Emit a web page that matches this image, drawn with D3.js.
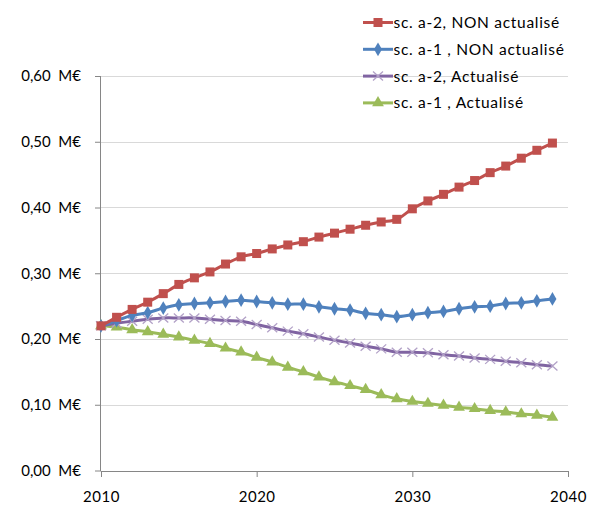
<!DOCTYPE html>
<html><head><meta charset="utf-8">
<script src="https://cdn.jsdelivr.net/npm/d3@7"></script>
<style>body{margin:0;background:#fff}svg{display:block}text{font-family:Lato,"Open Sans",sans-serif;fill:#000}</style>
</head><body><svg id="c" width="590" height="507"></svg>
<script>
const years = d3.range(2010, 2040);
const seriesNames = ["sc. a-2, NON actualisé","sc. a-1 , NON actualisé","sc. a-2, Actualisé","sc. a-1 , Actualisé"];
const redVals = [0.220,0.233,0.245,0.256,0.269,0.283,0.293,0.302,0.314,0.325,0.330,0.337,0.343,0.348,0.355,0.361,0.367,0.373,0.378,0.382,0.398,0.410,0.420,0.431,0.441,0.453,0.463,0.475,0.487,0.498];
const blueVals = [0.220,0.228,0.236,0.240,0.247,0.252,0.254,0.255,0.257,0.259,0.257,0.255,0.253,0.253,0.249,0.246,0.244,0.239,0.237,0.234,0.237,0.240,0.242,0.246,0.249,0.250,0.254,0.255,0.258,0.261];
const purpleVals = [0.220,0.224,0.227,0.230,0.232,0.232,0.232,0.230,0.228,0.227,0.222,0.217,0.212,0.208,0.203,0.198,0.194,0.189,0.185,0.180,0.180,0.179,0.176,0.174,0.171,0.169,0.166,0.164,0.161,0.159];
const greenVals = [0.220,0.218,0.214,0.211,0.207,0.203,0.198,0.193,0.186,0.180,0.172,0.165,0.157,0.150,0.142,0.135,0.129,0.123,0.115,0.109,0.105,0.102,0.099,0.096,0.094,0.091,0.089,0.086,0.084,0.081];
const yTicks = [0,0.1,0.2,0.3,0.4,0.5,0.6];
const xTicks = [2010,2020,2030,2040];
const colors = ["#C0504D","#4F81BD","#8064A2","#9BBB59"];
const markers = ["square","diamond","x","triangle"];

const svg = d3.select("#c");
const x = d3.scaleLinear().domain([2010,2040]).range([101,568]);
const y = d3.scaleLinear().domain([0,0.6]).range([470.5,76]);

// gridlines
svg.append("g").selectAll("line").data(yTicks.filter(d=>d>0)).join("line")
  .attr("x1",101).attr("x2",568).attr("y1",d=>Math.round(y(d))+0.5).attr("y2",d=>Math.round(y(d))+0.5)
  .attr("stroke","#d9d9d9").attr("stroke-width",1);

// y axis
const fmt = d => d.toFixed(2).replace(".",",") + "  M€";
const ya = svg.append("g").attr("transform","translate(101,0)")
  .call(d3.axisLeft(y).tickValues(yTicks).tickSize(6).tickPadding(14).tickFormat(fmt));
ya.selectAll("text").style("font-size","15px").attr("xml:space","preserve").style("white-space","pre");
ya.select(".domain").attr("stroke","#868686").attr("d","M-0.5,76V471");
ya.selectAll(".tick line").attr("stroke","#868686");

// x axis
const xa = svg.append("g").attr("transform","translate(0,471)")
  .call(d3.axisBottom(x).tickValues(xTicks).tickSize(6).tickPadding(14).tickFormat(d3.format("d")));
xa.selectAll("text").style("font-size","15px").style("letter-spacing","0.5px");
xa.select(".domain").attr("stroke","#868686").attr("d","M101,0.5H568");
xa.selectAll(".tick line").attr("stroke","#868686");

const allVals = [redVals, blueVals, purpleVals, greenVals];
const line = d3.line().x((d,i)=>x(years[i])).y(d=>y(d)).curve(d3.curveCatmullRom.alpha(0.5));

function drawMarker(g, type, color, cx, cy) {
  if (type==="square") {
    g.append("rect").attr("x",cx-4.5).attr("y",cy-4.5).attr("width",9).attr("height",9).attr("fill",color);
  } else if (type==="diamond") {
    g.append("path").attr("d",d3.symbol(d3.symbolDiamond,55)()).attr("transform",`translate(${cx},${cy})`).attr("fill",color);
  } else if (type==="triangle") {
    g.append("path").attr("d",d3.symbol(d3.symbolTriangle,60)()).attr("transform",`translate(${cx},${cy})`).attr("fill",color);
  } else {
    g.append("path").attr("d",`M${cx-5},${cy-4.5}L${cx+5},${cy+4.5}M${cx-5},${cy+4.5}L${cx+5},${cy-4.5}`)
      .attr("stroke","#b2a1c7").attr("stroke-width",1.3).attr("fill","none");
  }
}

// draw order: green, purple, blue, red (red on top)
[3,2,1,0].forEach(si=>{
  const g = svg.append("g");
  g.append("path").datum(allVals[si]).attr("d",line).attr("fill","none")
    .attr("stroke",colors[si]).attr("stroke-width",3).attr("stroke-linejoin","round");
  allVals[si].forEach((v,i)=>drawMarker(g, markers[si], colors[si], x(years[i]), y(v)));
});

// legend
const lg = svg.append("g");
seriesNames.forEach((n,i)=>{
  const cy = 22.5 + i*26.8;
  const g = lg.append("g");
  g.append("line").attr("x1",363).attr("x2",393).attr("y1",cy).attr("y2",cy).attr("stroke",colors[i]).attr("stroke-width",3);
  drawMarker(g, markers[i], colors[i], 378, cy);
  g.append("text").attr("x",393.5).attr("y",cy).attr("dy","0.35em").style("font-size","15.5px").style("letter-spacing","0.7px").text(n);
});
</script></body></html>
